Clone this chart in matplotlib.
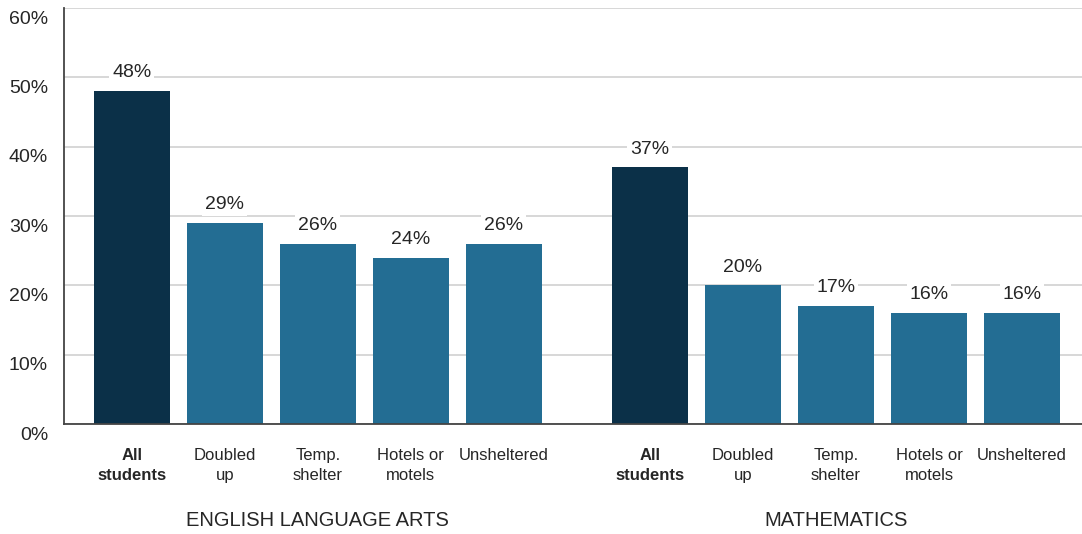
import matplotlib
matplotlib.use("Agg")
from matplotlib import pyplot as plt
from matplotlib import transforms
import numpy as np

plt.rcParams['font.family'] = ['Liberation Sans', 'DejaVu Sans']

categories = ["All\nstudents", "Doubled\nup", "Temp.\nshelter", "Hotels or\nmotels", "Unsheltered"]
subjects = ["ENGLISH LANGUAGE ARTS", "MATHEMATICS"]
ela = [48, 29, 26, 24, 26]
math_vals = [37, 20, 17, 16, 16]
yticks = [0, 10, 20, 30, 40, 50, 60]

dark = "#0b3048"
blue = "#236d93"
text_col = "#262626"

group_gap = 5.57
x_ela = np.arange(len(categories))
x_math = x_ela + group_gap
xs = np.concatenate([x_ela, x_math])
vals = ela + math_vals
colors = ([dark] + [blue] * 4) * 2

fig = plt.figure(figsize=(10.82, 5.34), dpi=100)
ax = fig.add_axes([64 / 1082, 110 / 534, 1 - 64 / 1082, 416 / 534])

ax.bar(xs, vals, width=0.817, color=colors, zorder=2)

ax.set_ylim(0, 60)
ax.set_xlim(-0.73, 10.215)
ax.set_yticks(yticks)
ax.set_yticklabels([f"{t}%" for t in yticks], fontsize=14, color=text_col)
ax.yaxis.grid(True, color="#d4d4d4", linewidth=1.3, zorder=0)
ax.tick_params(axis='both', length=0)
ax.tick_params(axis='y', pad=11.5)
# y labels sit a little below their gridlines
shift = transforms.ScaledTranslation(0, -9 / 100, fig.dpi_scale_trans)
for lbl in ax.get_yticklabels():
    lbl.set_transform(lbl.get_transform() + shift)

for s in ["top", "right"]:
    ax.spines[s].set_visible(False)
for s in ["left", "bottom"]:
    ax.spines[s].set_color("#444444")
    ax.spines[s].set_linewidth(1.3)
    ax.spines[s].set_zorder(3)

ax.set_xticks(xs)
ax.set_xticklabels(categories * 2, fontsize=12, color=text_col, linespacing=1.45,
                   va='top')
ax.tick_params(axis='x', pad=17)
for lbl in ax.get_xticklabels():
    if lbl.get_text().startswith("All"):
        lbl.set_fontweight("bold")

# value labels above each bar
for x, v in zip(xs, vals):
    ax.annotate(f"{v}%", (x, v), xytext=(0, 7), textcoords='offset points',
                ha='center', va='bottom', fontsize=14, color=text_col,
                bbox=dict(boxstyle='square,pad=0.15', fc='white', ec='none'),
                zorder=4)

# subject names under each group
trans = transforms.blended_transform_factory(ax.transData, ax.transAxes)
for xg, name in zip([x_ela.mean(), x_math.mean()], subjects):
    ax.text(xg, -0.231, name, transform=trans, ha='center', va='center',
            fontsize=14.5, color=text_col)

fig.savefig("out.png", dpi=100)
